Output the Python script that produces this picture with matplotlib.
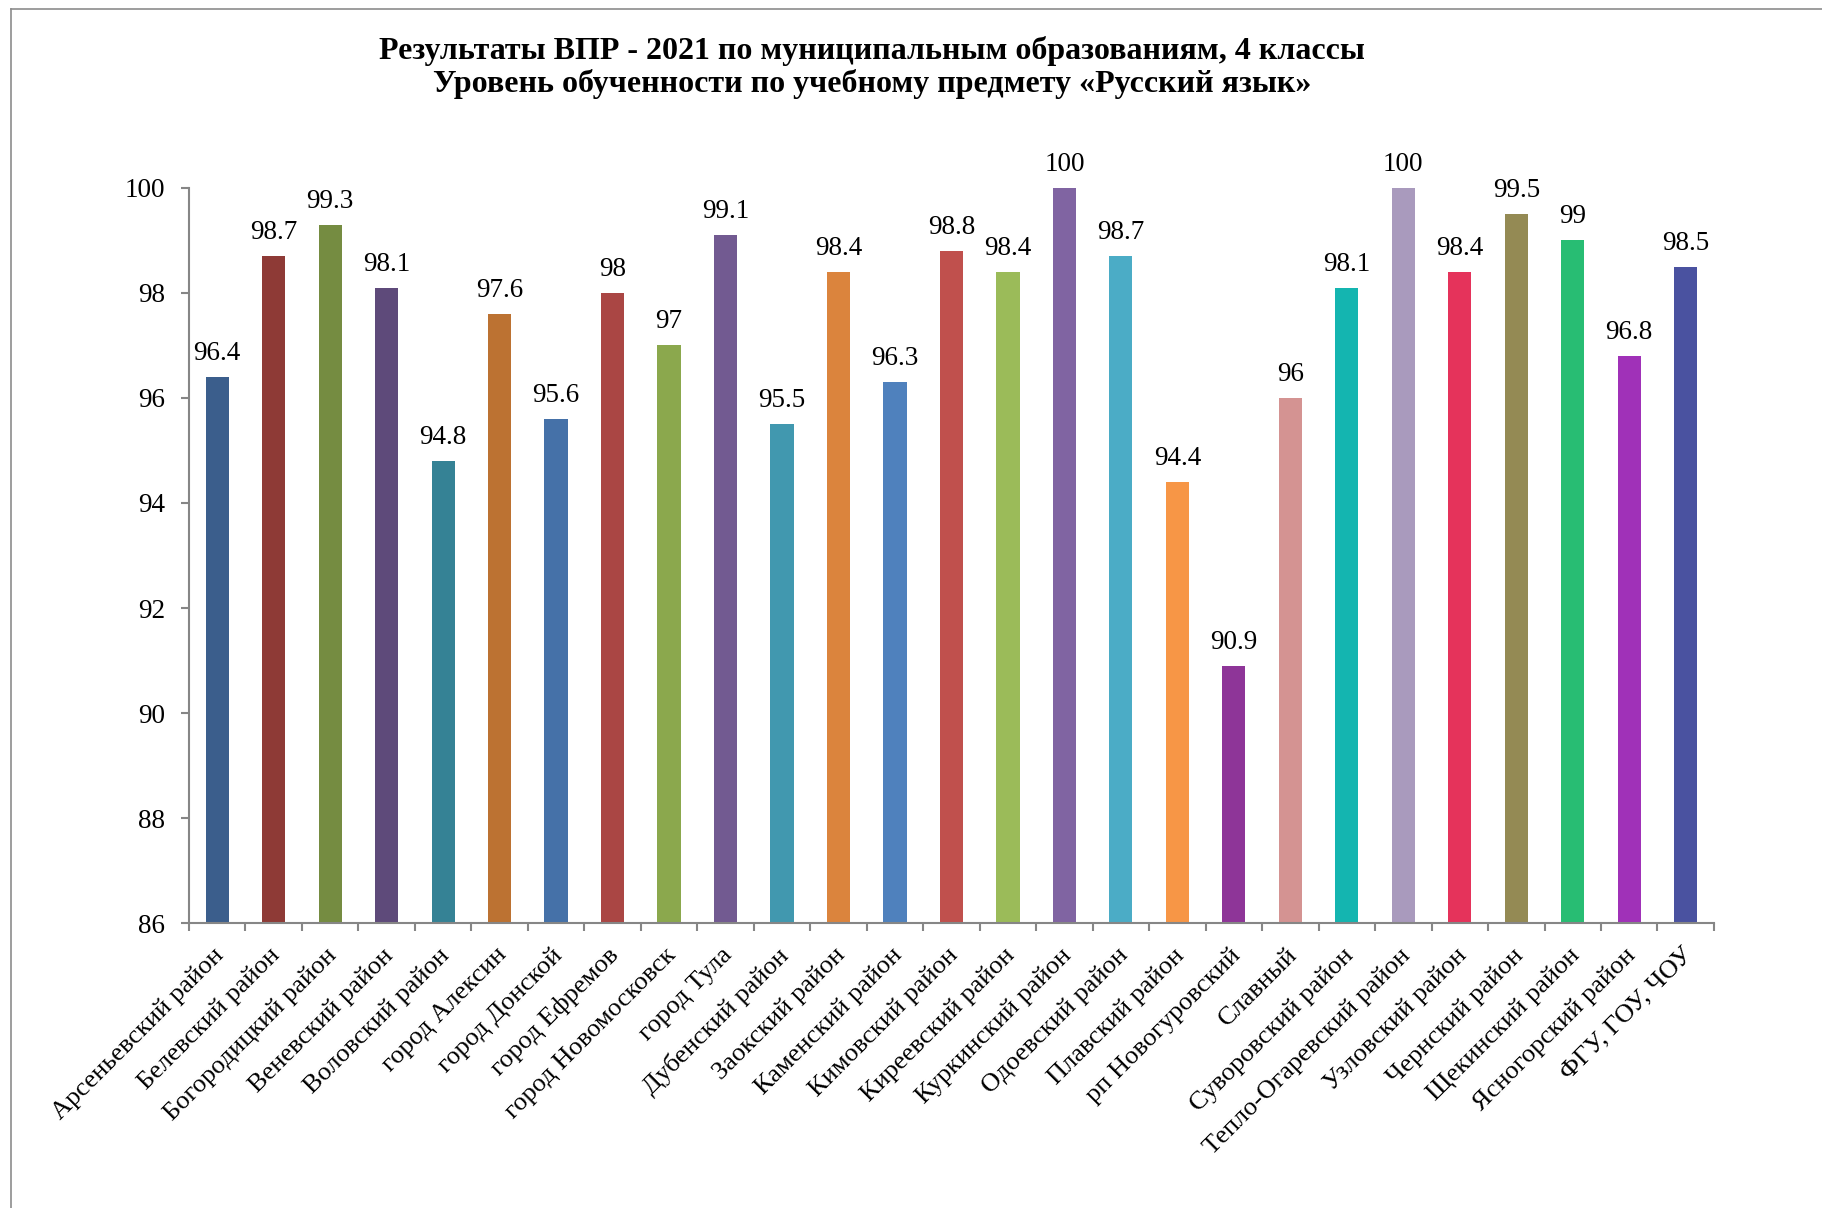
import matplotlib
matplotlib.use('Agg')
import matplotlib.pyplot as plt
from matplotlib.lines import Line2D
from matplotlib.transforms import ScaledTranslation
import numpy as np

districts = ['Арсеньевский район', 'Белевский район', 'Богородицкий район', 'Веневский район',
             'Воловский район', 'город Алексин', 'город Донской', 'город Ефремов',
             'город Новомосковск', 'город Тула', 'Дубенский район', 'Заокский район',
             'Каменский район', 'Кимовский район', 'Киреевский район', 'Куркинский район',
             'Одоевский район', 'Плавский район', 'рп Новогуровский', 'Славный',
             'Суворовский район', 'Тепло-Огаревский район', 'Узловский район', 'Чернский район',
             'Щекинский район', 'Ясногорский район', 'ФГУ, ГОУ, ЧОУ']
scores = [96.4, 98.7, 99.3, 98.1, 94.8, 97.6, 95.6, 98, 97, 99.1, 95.5, 98.4, 96.3, 98.8,
          98.4, 100, 98.7, 94.4, 90.9, 96, 98.1, 100, 98.4, 99.5, 99, 96.8, 98.5]
bar_colors = ['#3B5E8C', '#8E3A36', '#758C41', '#5E4A7A', '#358295', '#BC7232', '#4571A8',
              '#AA4644', '#8BA84D', '#725A91', '#4198AF', '#DB843D', '#4F81BD', '#C0504D',
              '#9BBB59', '#8064A2', '#4BACC6', '#F79646', '#8E3598', '#D49392', '#14B5B0',
              '#A99ABD', '#E5335B', '#948A54', '#28BD73', '#A031B8', '#4A52A0']
y_ticks = [86, 88, 90, 92, 94, 96, 98, 100]
title = ('Результаты ВПР - 2021 по муниципальным образованиям, 4 классы\n'
         'Уровень обученности по учебному предмету «Русский язык»')

plt.rcParams['font.family'] = ['Liberation Serif', 'DejaVu Serif']
axis_gray = '#868686'

fig = plt.figure(figsize=(18.22, 12.08), dpi=100)
ax = fig.add_axes([0.1037, 0.2359, 0.8370, 0.6085])

x = np.arange(len(districts))
bars = ax.bar(x, scores, width=0.41, color=bar_colors)

for bar, v in zip(bars, scores):
    ax.annotate(f'{v:g}', xy=(bar.get_x() + bar.get_width() / 2, bar.get_height()),
                xytext=(0, 8), textcoords='offset points', ha='center', va='bottom',
                fontsize=19.5)

ax.set_ylim(86, 100)
ax.set_xlim(-0.5, len(districts) - 0.5)
ax.set_yticks(y_ticks)
ax.set_yticklabels([str(t) for t in y_ticks], fontsize=19.5)
ax.set_xticks(x)
ax.set_xticklabels(districts, rotation=45, ha='right', fontsize=19)
ax.set_xticks(np.arange(-0.5, len(districts), 1), minor=True)
ax.tick_params(axis='x', which='major', length=0, pad=15)
ax.tick_params(axis='x', which='minor', length=6, width=1.5, color=axis_gray)
ax.tick_params(axis='y', length=6, width=1.5, color=axis_gray, pad=11)

# nudge rotated labels to the right, like Excel places them
shift = ScaledTranslation(8 / 72, 0, fig.dpi_scale_trans)
for lbl in ax.get_xticklabels():
    lbl.set_transform(lbl.get_transform() + shift)

for side in ['top', 'right']:
    ax.spines[side].set_visible(False)
for side in ['left', 'bottom']:
    ax.spines[side].set_color(axis_gray)
    ax.spines[side].set_linewidth(1.5)

fig.text(0.4786, 0.9445, title, ha='center', va='center', fontsize=23,
         fontweight='bold', linespacing=1.13)

# outer chart frame, only left and top edges are visible in the crop
fx, fy = 11 / 1822, 1 - 9 / 1208
fig.add_artist(Line2D([fx, fx], [0, fy], transform=fig.transFigure, color='#8C8C8C', lw=1.2))
fig.add_artist(Line2D([fx, 1], [fy, fy], transform=fig.transFigure, color='#8C8C8C', lw=1.2))

fig.savefig('out.png', dpi=100)
